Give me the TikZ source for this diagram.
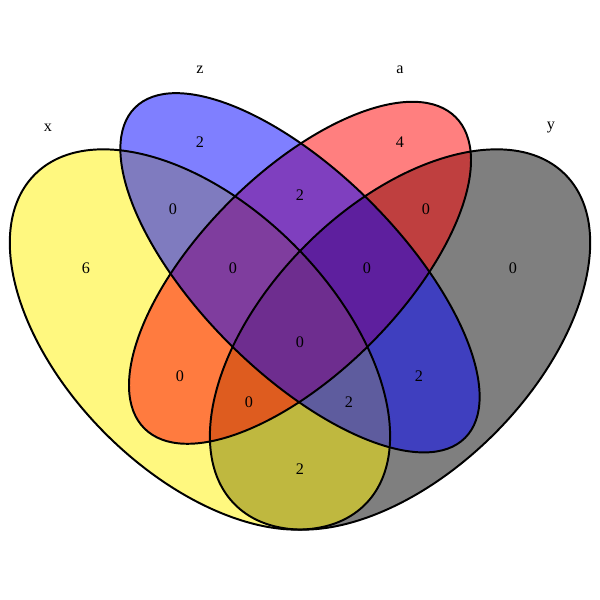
\documentclass[tikz,border=0pt]{standalone}
\usepackage{fontspec}
\setmainfont{Liberation Serif}
\begin{document}
\begin{tikzpicture}[scale=16.675, font=\fontsize{11.5}{13}\selectfont,
    setfill/.style={fill opacity=0.5, draw=none},
    setline/.style={draw=black, line width=1.4pt}]
    \useasboundingbox (0.0502, 0.0795) rectangle (0.9498, 0.979);
    % fills first
    \fill[setfill, black, rotate around={45:(0.65, 0.47)}] (0.65, 0.47) ellipse (0.35 and 0.2);
    \fill[setfill, yellow, rotate around={135:(0.35, 0.47)}] (0.35, 0.47) ellipse (0.35 and 0.2);
    \fill[setfill, red, rotate around={45:(0.5, 0.57)}] (0.5, 0.57) ellipse (0.33 and 0.15);
    \fill[setfill, blue, rotate around={135:(0.5, 0.57)}] (0.5, 0.57) ellipse (0.35 and 0.15);
    % outlines
    \draw[setline, rotate around={45:(0.65, 0.47)}] (0.65, 0.47) ellipse (0.35 and 0.2);
    \draw[setline, rotate around={135:(0.35, 0.47)}] (0.35, 0.47) ellipse (0.35 and 0.2);
    \draw[setline, rotate around={45:(0.5, 0.57)}] (0.5, 0.57) ellipse (0.33 and 0.15);
    \draw[setline, rotate around={135:(0.5, 0.57)}] (0.5, 0.57) ellipse (0.35 and 0.15);
    % set names
    \node (x) at (0.1222, 0.7871) {x};
    \node (z) at (0.3501, 0.8741) {z};
    \node (a) at (0.6499, 0.8741) {a};
    \node (y) at (0.8763, 0.7871) {y};
    % counts
    \node (nx) at (0.1792, 0.5765) {6};
    \node (nz) at (0.3501, 0.7661) {2};
    \node (na) at (0.6499, 0.7661) {4};
    \node (ny) at (0.8193, 0.5765) {0};
    \node (nxz) at (0.3096, 0.6657) {0};
    \node (nza) at (0.5, 0.6867) {2};
    \node (nay) at (0.6889, 0.6657) {0};
    \node (nxza) at (0.3996, 0.5765) {0};
    \node (nzay) at (0.6004, 0.5765) {0};
    \node (nxzay) at (0.5, 0.4663) {0};
    \node (nxa) at (0.3201, 0.4153) {0};
    \node (nzy) at (0.6784, 0.4153) {2};
    \node (nxay) at (0.4235, 0.3763) {0};
    \node (nxzy) at (0.5735, 0.3763) {2};
    \node (nxy) at (0.5, 0.2759) {2};
\end{tikzpicture}
\end{document}
